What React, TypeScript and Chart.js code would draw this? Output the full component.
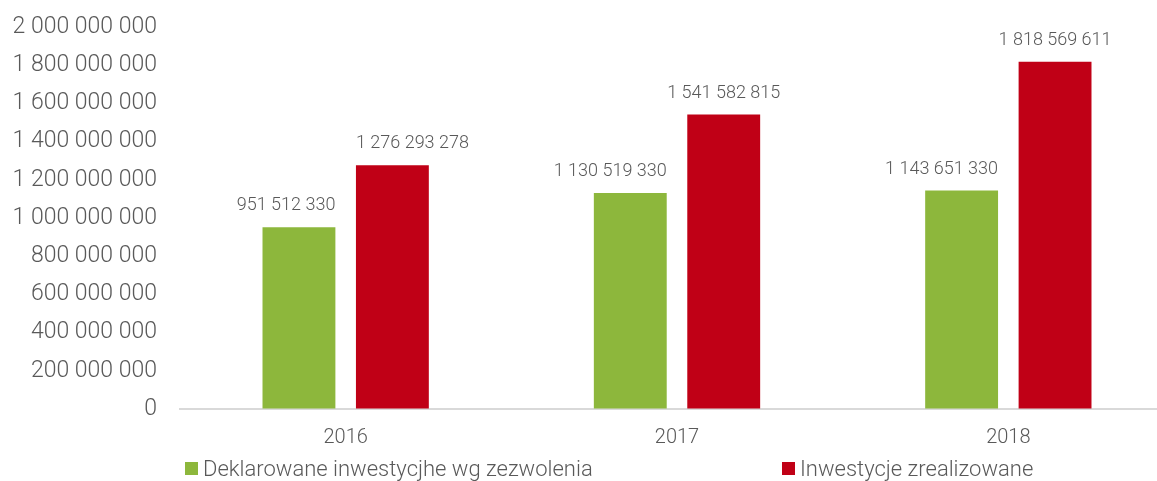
import React, { useEffect, useRef } from "react";
import { Chart, registerables } from "chart.js";

Chart.register(...registerables);

const categories = ["2016", "2017", "2018"];
const seriesNames = ["Deklarowane inwestycjhe wg zezwolenia", "Inwestycje zrealizowane"];
const declared = [951512330, 1130519330, 1143651330];
const realized = [1276293278, 1541582815, 1818569611];
const yTicks = [0, 200000000, 400000000, 600000000, 800000000, 1000000000, 1200000000, 1400000000, 1600000000, 1800000000, 2000000000];
// label horizontal alignment per series per category (as in the source)
const declaredLabelAlign = ["right", "right", "right"];
const realizedLabelAlign = ["left", "center", "center"];

const GREEN = "#8DB73C";
const RED = "#C00016";
const TEXT = "#595959";
const FONT = "Roboto";

const fmt = (v: number) => String(Math.round(v)).replace(/\B(?=(\d{3})+(?!\d))/g, " ");

const labelPlugin = {
  id: "barLabels",
  afterDatasetsDraw(chart: any) {
    const ctx = chart.ctx;
    const aligns = [declaredLabelAlign, realizedLabelAlign];
    ctx.save();
    ctx.font = `300 18px ${FONT}`;
    ctx.fillStyle = TEXT;
    ctx.textBaseline = "alphabetic";
    chart.data.datasets.forEach((ds: any, di: number) => {
      const meta = chart.getDatasetMeta(di);
      meta.data.forEach((bar: any, i: number) => {
        const a = aligns[di][i];
        const w = bar.width;
        let x = bar.x;
        if (a === "right") x = bar.x + w / 2;
        if (a === "left") x = bar.x - w / 2;
        ctx.textAlign = a;
        ctx.fillText(fmt(ds.data[i]), x, bar.y - 17);
      });
    });
    ctx.restore();
  },
};

const legendPlugin = {
  id: "customLegend",
  afterDraw(chart: any) {
    const ctx = chart.ctx;
    const left = chart.chartArea.left;
    const xs = [left + 5, left + 602];
    const y = 469;
    ctx.save();
    ctx.font = `300 22px ${FONT}`;
    ctx.textBaseline = "middle";
    ctx.textAlign = "left";
    chart.data.datasets.forEach((ds: any, i: number) => {
      ctx.fillStyle = ds.backgroundColor;
      ctx.fillRect(xs[i], y - 7, 13, 13);
      ctx.fillStyle = TEXT;
      ctx.fillText(ds.label, xs[i] + 18, y + 1);
    });
    ctx.restore();
  },
};

export default function App() {
  const ref = useRef<HTMLCanvasElement>(null);
  useEffect(() => {
    document.body.style.margin = "0";
    document.body.style.overflow = "hidden";
    const chart = new Chart(ref.current!, {
      type: "bar",
      data: {
        labels: categories,
        datasets: [
          { label: seriesNames[0], data: declared, backgroundColor: GREEN },
          { label: seriesNames[1], data: realized, backgroundColor: RED },
        ],
      },
      options: {
        animation: false,
        responsive: false,
        maintainAspectRatio: false,
        layout: { padding: { top: 27, right: 6, bottom: 0, left: 0 } },
        datasets: { bar: { categoryPercentage: 0.564, barPercentage: 0.78 } },
        plugins: { legend: { display: false }, tooltip: { enabled: false } },
        scales: {
          x: {
            grid: { display: false, drawTicks: false },
            border: { display: true, color: "#D9D9D9", width: 2 },
            ticks: { color: TEXT, font: { family: FONT, size: 20, weight: "300" }, padding: 17 },
            afterFit: (s: any) => { s.height = 91; },
          },
          y: {
            min: 0,
            max: 2000000000,
            grid: { display: true, drawOnChartArea: false, drawTicks: true, tickLength: 23, color: "rgba(0,0,0,0)" },
            border: { display: false },
            afterBuildTicks: (s: any) => { s.ticks = yTicks.map((v) => ({ value: v })); },
            ticks: {
              color: TEXT,
              font: { family: FONT, size: 23, weight: "300" },
              padding: 0,
              callback: (v: any) => fmt(Number(v)),
            },
            afterFit: (s: any) => { s.width = 180; },
          },
        },
      },
      plugins: [labelPlugin, legendPlugin],
    });
    return () => chart.destroy();
  }, []);
  return (
    <div style={{ position: "absolute", left: 0, top: 0, width: 1180, height: 500 }}>
      <canvas ref={ref} width={1180} height={500} style={{ width: 1180, height: 500 }} />
    </div>
  );
}
